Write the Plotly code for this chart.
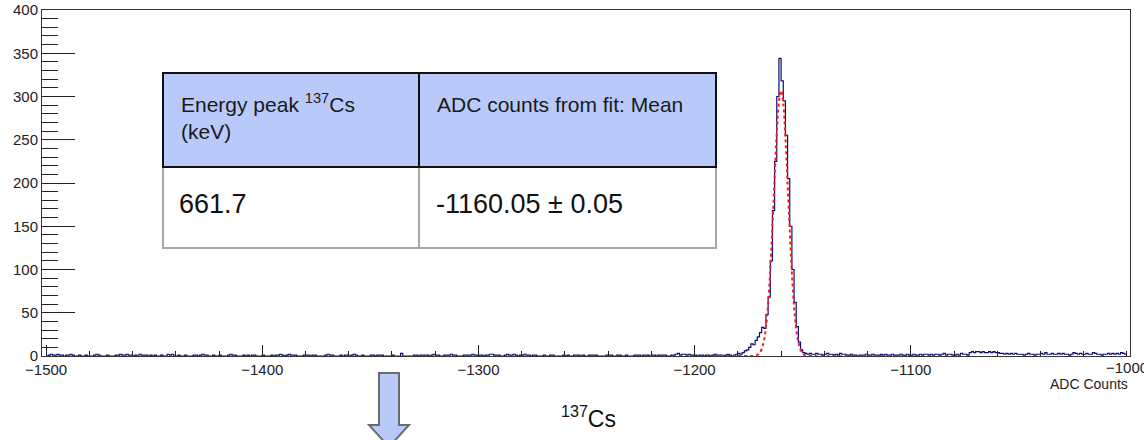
import plotly.graph_objects as go

# ---------------- data ----------------
bin_low = -1500          # first bin left edge
bin_width = 1            # ADC counts per bin

counts_a = [0,1,2,1,1,2,1,1,0,1, 1,2,1,0,0,1,0,0,1,0, 0,0,1,2,1,0,0,0,1,0, 0,0,1,1,2,1,1,2,1,1,
            0,1,0,2,1,1,1,0,1,0, 1,0,0,1,0,0,2,1,2,0, 0,1,0,0,1,0,0,0,1,1, 0,1,2,1,1,0,0,1,0,0,
            1,0,0,0,1,2,1,1,0,0, 0,1,0,1,0,1,1,0,0,0]
counts_b = [1,0,0,0,1,0,1,1,2,1, 0,1,2,1,1,1,0,0,0,1, 1,1,0,1,1,0,0,0,0,1, 2,1,1,0,0,0,1,0,1,1,
            0,1,2,1,0,0,1,0,0,0, 1,1,0,1,1,1,0,0,0,0, 1,0,0,0,3,0,0,0,0,0, 1,1,0,1,1,1,1,0,1,2,
            1,1,0,0,1,1,1,2,1,1, 0,0,0,1,1,1,1,2,1,1]
counts_c = [1,1,0,1,1,2,2,1,1,1, 0,0,1,2,1,1,2,1,0,1, 1,2,1,1,0,1,1,0,0,0, 1,0,0,1,1,0,0,0,0,1,
            0,1,0,0,1,1,1,0,1,0, 0,1,1,1,1,0,0,0,0,1, 1,1,0,0,1,1,0,0,1,0, 0,0,1,1,1,0,1,1,1,0,
            1,1,0,1,1,1,1,0,0,1, 1,2,3,1,2,2,1,2,1,1]
counts_d = [1,0,1,1,0,1,1,0,1,2, 1,1,1,0,1,2,1,0,1,
            2,3,2,4,6,7,10,14,13,18, 22,27,33,32,48,68,110,168,225,300,
            344,318,295,255,205,150,100,62,34,16, 7,4,3,2,3,2,
            2,3,2,2,1,2,3,2,2,1, 2,1,3,2,2,1,1,2,1,1, 0,1,1,1,2,1,1,2,1,1, 1,2,1,2,1,1,2,1,1,1,
            2,1,1,2,1]
counts_e = [1,2,1,1,2,1,2,2,1,2, 1,2,2,1,2,3,1,2,2,1, 1,2,1,3,2,2,1,4,5,4, 5,5,4,5,4,4,5,4,5,4,
            4,3,3,2,3,2,3,2,3,2, 2,2,1,2,3,2,2,1,2,2, 3,2,4,2,2,3,2,2,3,2, 3,2,2,1,2,4,3,2,3,2,
            2,3,2,2,4,3,2,2,1,2, 2,3,2,3,2,3,2,4,3,2]

# Gaussian fit curve
fit_x = [-1191, -1175, -1173, -1172, -1171, -1170, -1169, -1168, -1167, -1166, -1165, -1164,
         -1163, -1162, -1161, -1160.05, -1159, -1158, -1157, -1156, -1155, -1154, -1153,
         -1152, -1151, -1150, -1149, -1148, -1146, -1112]
fit_y = [0, 0, 0.1, 0.4, 1.3, 3.3, 7.8, 17, 33, 60, 100, 150,
         206, 258, 294, 307, 292, 253, 200, 145, 95, 57, 31,
         16, 7, 3, 1.1, 0.4, 0, 0]

x_ticks = [-1500, -1400, -1300, -1200, -1100]
x_last_tick = -1000
y_ticks = [0, 50, 100, 150, 200, 250, 300, 350, 400]
x_title = "ADC Counts"

table_header_1 = ["Energy peak <sup>137</sup>Cs", "(keV)"]
table_header_2 = "ADC counts from fit: Mean"
table_values = ["661.7", "-1160.05 ± 0.05"]
source_label = "<sup>137</sup>Cs"

# ---------------- figure ----------------
counts = counts_a + counts_b + counts_c + counts_d + counts_e
centers = [bin_low + bin_width * (i + 0.5) for i in range(len(counts))]

W, H = 1144, 440
L, R, T, B = 42, 14, 10, 84
pw, ph = W - L - R, H - T - B


def px(x):
    return (x - L) / pw


def py(y):
    return (H - B - y) / ph


fig = go.Figure()
fig.add_trace(go.Scatter(x=centers, y=counts, mode="lines", line_shape="hvh",
                         line=dict(color="#0c0c74", width=1.2), hoverinfo="skip"))
fig.add_trace(go.Scatter(x=fit_x, y=fit_y, mode="lines", line_shape="spline",
                         line=dict(color="#ff1a1a", width=2, dash="dot"), hoverinfo="skip"))

font = "Liberation Sans, Arial, Helvetica, sans-serif"
tick_font = dict(family=font, size=15, color="#222222")
axis_common = dict(showgrid=False, zeroline=False, showline=True, linecolor="#333333",
                   linewidth=1, mirror=True, ticks="inside", tickcolor="#222222",
                   tickwidth=1, tickfont=tick_font, automargin=False)

fig.update_xaxes(range=[-1501.9, -998.6], tickvals=x_ticks, ticklen=11,
                 minor=dict(dtick=20, ticklen=5, ticks="inside", tickcolor="#222222"),
                 **axis_common)
fig.update_yaxes(range=[0, 400], tickvals=y_ticks, ticklen=33,
                 minor=dict(dtick=10, ticklen=16, ticks="inside", tickcolor="#222222"),
                 **axis_common)

shapes = []
fill_blue = "#b8c9fa"
x0, xm, x1 = 163, 419, 716
y0, ym, y1 = 73, 167, 248
for a, b in ((x0, xm), (xm, x1)):
    shapes.append(dict(type="rect", xref="paper", yref="paper", x0=px(a), x1=px(b),
                       y0=py(y1), y1=py(ym), fillcolor="white",
                       line=dict(color="#a6a6a6", width=2), layer="above"))
for a, b in ((x0, xm), (xm, x1)):
    shapes.append(dict(type="rect", xref="paper", yref="paper", x0=px(a), x1=px(b),
                       y0=py(ym), y1=py(y0), fillcolor=fill_blue,
                       line=dict(color="#111111", width=2), layer="above"))
# arrow below the axis
ax_pts = [(379, 373), (399, 373), (399, 425), (409, 425), (389, 447), (369, 425), (379, 425)]
path = "M " + " L ".join(f"{px(a):.5f},{py(b):.5f}" for a, b in ax_pts) + " Z"
shapes.append(dict(type="path", xref="paper", yref="paper", path=path, fillcolor=fill_blue,
                   line=dict(color="#6b6b6b", width=2), layer="above"))
fig.update_layout(shapes=shapes)

ann = []


def text(x, y, t, size, anchor="left", color="#1a1a1a"):
    ann.append(dict(x=px(x), y=py(y), xref="paper", yref="paper", text=t, showarrow=False,
                    xanchor=anchor, yanchor="middle", align=anchor,
                    font=dict(family=font, size=size, color=color)))


text(179, 103, table_header_1[0], 21)
text(179, 131, table_header_1[1], 21)
text(435, 104, table_header_2, 21)
text(177, 204, table_values[0], 27, color="#111111")
text(434, 204, table_values[1], 27, color="#111111")
text(1130, 384, x_title, 14, anchor="right", color="#222222")
text(588, 417, source_label, 23, anchor="center", color="#111111")
# last x tick label (partly outside the page, as in the reference)
ann.append(dict(x=x_last_tick, y=0, xref="x", yref="paper", text="\u2212" + str(abs(x_last_tick)),
                showarrow=False, xanchor="center", yanchor="top", yshift=-1,
                font=tick_font))
fig.update_layout(annotations=ann)

fig.update_layout(width=W, height=H, margin=dict(l=L, r=R, t=T, b=B, pad=0),
                  paper_bgcolor="white", plot_bgcolor="white", showlegend=False,
                  font=dict(family=font))

fig.write_html("out.html")
